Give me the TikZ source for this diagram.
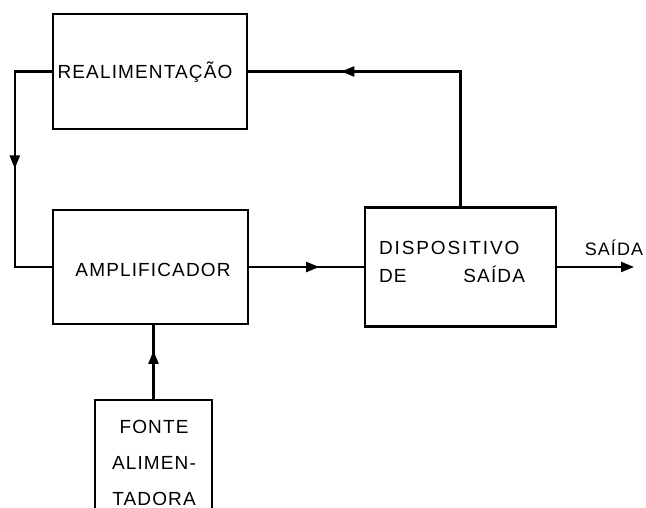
\documentclass[tikz,border=0pt]{standalone}
\usepackage{fontspec}
\setmainfont{Liberation Sans}[LetterSpace=6]
\usetikzlibrary{arrows.meta,decorations.markings}
\begin{document}
\begin{tikzpicture}[x=1pt,y=-1pt,
  line width=2.2pt,
  >={Triangle[length=13pt,width=10pt]},
  blk/.style={draw,line width=2.4pt,inner sep=0pt},
  lbl/.style={inner sep=0pt,font=\fontsize{19}{23}\selectfont},
  midarrow/.style={postaction={decorate},decoration={markings,mark=at position #1 with {\arrow{>}}}}
]
\useasboundingbox (0,0) rectangle (646,508);
\begin{scope}
\clip (0,0) rectangle (646,508);
\node[blk,minimum width=194pt,minimum height=115pt] (realim) at (150,71.5) {};
\node[lbl] (realimt) at (145,72) {REALIMENTAÇÃO};
\node[blk,minimum width=195pt,minimum height=114pt] (amp) at (150.5,267) {};
\node[lbl] (ampt) at (153,270) {AMPLIFICADOR};
\node[blk,minimum width=191pt,minimum height=119pt] (disp) at (460.5,267) {};
\node[lbl,align=left] (dispt) at (451,262) {\addfontfeatures{LetterSpace=10}DISPOSITIVO\\[5pt]\makebox[144pt][l]{DE\hfill SAÍDA\hspace{-2pt}}};
\node[blk,minimum width=117pt,minimum height=140pt] (fonte) at (153.5,470) {};
\node[lbl,align=center,font=\fontsize{19}{36}\selectfont] (fontet) at (154,463) {FONTE\\ALIMEN-\\TADORA};
\node[lbl,font=\fontsize{18}{22}\selectfont] (saida) at (614,248) {SAÍDA};
\coordinate (out) at (634,267);
\end{scope}
\draw[midarrow=254pt] (disp.north) |- (realim.east);
\draw[midarrow=134pt] (realim.west) -- ++(-37,0) |- (amp.west);
\draw[midarrow=70pt] (amp.east) -- (disp.west);
\draw[->] (disp.east) -- (out);
\draw[midarrow=48pt] (fonte.north) -- (fonte.north |- amp.south);
\end{tikzpicture}
\end{document}
